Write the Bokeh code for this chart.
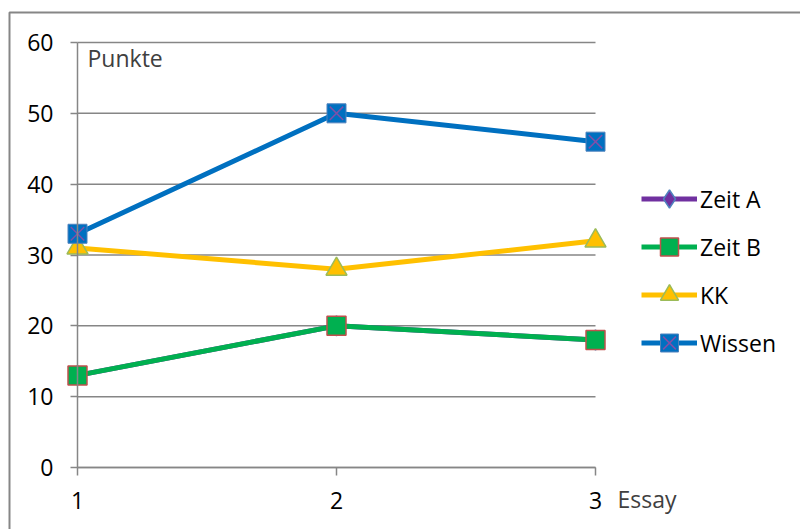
from bokeh.plotting import figure
from bokeh.models import (Range1d, LinearAxis, FixedTicker, Legend, LegendItem, Label)
from bokeh.embed import file_html
from bokeh.resources import INLINE

# --- data -------------------------------------------------------------
essays = [1, 2, 3]
zeit_a = [13, 20, 18]
zeit_b = [13, 20, 18]
kk = [31, 28, 32]
wissen = [33, 50, 46]

x_ticks = [1, 2, 3]
y_ticks = [0, 10, 20, 30, 40, 50, 60]
y_title = "Punkte"
x_title = "Essay"

# --- layout -----------------------------------------------------------
W, H = 800, 529
PX_LEFT, PX_RIGHT = 77, 595     # where x = 1 and x = 3 sit on the canvas
PX_TOP, PX_BOTTOM = 42, 467     # where y = 60 and y = 0 sit on the canvas

FONT = "Open Sans"
FS = "23px"
GRID = "#868686"

x_lo, x_hi = min(x_ticks), max(x_ticks)
y_lo, y_hi = min(y_ticks), max(y_ticks)
kx = (PX_RIGHT - PX_LEFT) / (x_hi - x_lo)
ky = (PX_BOTTOM - PX_TOP) / (y_hi - y_lo)
x_range = Range1d(x_lo - PX_LEFT / kx, x_hi + (W - PX_RIGHT) / kx)
y_range = Range1d(y_lo - (H - PX_BOTTOM) / ky, y_hi + PX_TOP / ky)


def px(v):
    return x_range.start + v / kx


def py(v):
    return y_range.end - v / ky


p = figure(width=W, height=H, x_range=x_range, y_range=y_range,
           output_backend="svg", toolbar_location=None,
           x_axis_type=None, y_axis_type=None, min_border=0,
           outline_line_color=None, background_fill_color="white",
           border_fill_color="white")

# outer chart border (top and left edges)
p.line([px(9), px(9), px(W + 5)], [py(H + 5), py(12), py(12)],
       line_color=GRID, line_width=2)

# horizontal gridlines between the first and last category
p.segment(x0=[x_lo] * len(y_ticks), x1=[x_hi] * len(y_ticks),
          y0=y_ticks, y1=y_ticks, line_color=GRID, line_width=1.5)

yaxis = LinearAxis(fixed_location=x_lo, bounds=(y_lo, y_hi),
                   ticker=FixedTicker(ticks=y_ticks),
                   axis_line_color=GRID, axis_line_width=1.5,
                   major_tick_line_color=GRID, major_tick_line_width=1.5,
                   major_tick_out=7, major_tick_in=0,
                   minor_tick_line_color=None,
                   major_label_standoff=17,
                   major_label_text_font=FONT,
                   major_label_text_font_size=FS,
                   major_label_text_color="black")
p.add_layout(yaxis, "left")

xaxis = LinearAxis(fixed_location=y_lo, bounds=(x_lo, x_hi),
                   ticker=FixedTicker(ticks=x_ticks),
                   axis_line_color=GRID, axis_line_width=1.5,
                   major_tick_line_color=GRID, major_tick_line_width=1.5,
                   major_tick_out=8, major_tick_in=0,
                   minor_tick_line_color=None,
                   major_label_standoff=16,
                   major_label_text_font=FONT,
                   major_label_text_font_size=FS,
                   major_label_text_color="black")
p.add_layout(xaxis, "below")

p.add_layout(Label(x=x_lo, y=y_hi, x_offset=10, y_offset=-15, text=y_title,
                   text_font=FONT, text_font_size=FS,
                   text_color="#404040", text_baseline="alphabetic"))
p.add_layout(Label(x=x_hi, y=y_lo, x_offset=22, y_offset=-31, text=x_title,
                   text_font=FONT, text_font_size=FS,
                   text_color="#404040", text_baseline="alphabetic"))

# --- series -----------------------------------------------------------
LW = 5
la = p.line(essays, zeit_a, line_color="#7030A0", line_width=LW)
ma = p.scatter(essays, zeit_a, marker="diamond", size=20,
               fill_color="#7030A0", line_color="#4F81BD", line_width=1.5)

lb = p.line(essays, zeit_b, line_color="#00B050", line_width=LW)
mb = p.scatter(essays, zeit_b, marker="square", size=19,
               fill_color="#00B050", line_color="#C0504D", line_width=1.5)

lk = p.line(essays, kk, line_color="#FFC000", line_width=LW)
mk = p.scatter(essays, kk, marker="triangle", size=21,
               fill_color="#FFC000", line_color="#9BBB59", line_width=1.5)

lw_ = p.line(essays, wissen, line_color="#0070C0", line_width=LW)
mw = p.scatter(essays, wissen, marker="square", size=19,
               fill_color="#0070C0", line_color="#4F81BD", line_width=1)
xw = p.scatter(essays, wissen, marker="x", size=19,
               line_color="#7F4FA8", line_width=1.5)

legend = Legend(items=[
    LegendItem(label="Zeit A", renderers=[la, ma]),
    LegendItem(label="Zeit B", renderers=[lb, mb]),
    LegendItem(label="KK", renderers=[lk, mk]),
    LegendItem(label="Wissen", renderers=[lw_, mw, xw]),
], location=(641, 164), orientation="vertical",
    glyph_width=56, glyph_height=45, spacing=3, padding=0, margin=0,
    label_standoff=3, border_line_color=None, background_fill_alpha=0,
    label_text_font=FONT, label_text_font_size=FS,
    label_text_color="black", label_text_baseline="middle")
p.add_layout(legend)

open("out.html", "w").write(file_html(p, INLINE))
